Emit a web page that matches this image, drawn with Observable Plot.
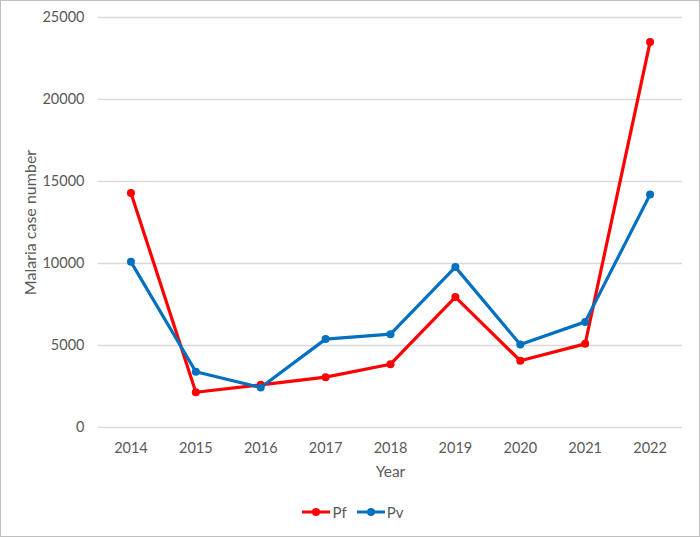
<!DOCTYPE html>
<html>
<head>
<meta charset="utf-8">
<script src="https://cdn.jsdelivr.net/npm/d3@7"></script>
<script src="https://cdn.jsdelivr.net/npm/@observablehq/plot@0.6"></script>
<style>
  html, body { margin: 0; padding: 0; background: #fff; }
  #wrap { position: relative; width: 700px; height: 537px; overflow: hidden; font-family: Lato, "Open Sans", sans-serif; }
  #border { position: absolute; left: 0; top: 0; width: 700px; height: 537px; box-sizing: border-box; border: 1.5px solid #bfbfbf; pointer-events: none; }
  #chart { position: absolute; left: 0; top: 0; }
  #legend { position: absolute; top: 503px; left: 0; width: 700px; display: flex; justify-content: center; align-items: center; gap: 10px; font-size: 15px; color: #595959; padding-left: 6px; box-sizing: border-box; }
  .item { display: flex; align-items: center; gap: 2px; }
</style>
</head>
<body>
<div id="wrap">
  <div id="chart"></div>
  <div id="legend"></div>
  <div id="border"></div>
</div>
<script>
const years = ["2014", "2015", "2016", "2017", "2018", "2019", "2020", "2021", "2022"];
const pf = [14300, 2150, 2600, 3070, 3860, 7950, 4070, 5100, 23500];
const pv = [10100, 3400, 2440, 5390, 5690, 9780, 5060, 6440, 14200];
const seriesNames = ["Pf", "Pv"];
const seriesColors = ["#ff0000", "#0070c0"];
const yTicks = [0, 5000, 10000, 15000, 20000, 25000];
const yLabel = "Malaria case number";
const xLabel = "Year";

const rows = [];
years.forEach((y, i) => {
  rows.push({ year: y, value: pf[i], series: seriesNames[0] });
});
years.forEach((y, i) => {
  rows.push({ year: y, value: pv[i], series: seriesNames[1] });
});

const chart = Plot.plot({
  width: 700,
  height: 490,
  marginLeft: 98,
  marginRight: 18,
  marginTop: 17,
  marginBottom: 63,
  style: { fontFamily: "Lato, 'Open Sans', sans-serif", color: "#595959", background: "transparent" },
  x: { type: "point", domain: years, padding: 0.5, round: false, label: null },
  y: { domain: [0, 25000], label: null },
  color: { domain: seriesNames, range: seriesColors },
  marks: [
    Plot.gridY(yTicks, { stroke: "#d9d9d9", strokeOpacity: 1, strokeWidth: 1.3 }),
    Plot.axisY(yTicks, { tickSize: 0, tickPadding: 14, fontSize: 14.5, tickFormat: d => String(d), label: null }),
    Plot.axisX(years, { tickSize: 0, tickPadding: 15, fontSize: 14.5, label: null }),
    Plot.text([yLabel], { frameAnchor: "left", textAnchor: "middle", text: d => d, rotate: -90, dx: -68, dy: 0, fontSize: 16, fill: "#595959" }),
    Plot.text([xLabel], { frameAnchor: "bottom", text: d => d, dy: 49, fontSize: 15.5, fill: "#595959" }),
    Plot.line(rows, { x: "year", y: "value", z: "series", stroke: "series", strokeWidth: 3.2 }),
    Plot.dot(rows, { x: "year", y: "value", fill: "series", r: 4 })
  ]
});
document.getElementById("chart").appendChild(chart);

const legend = document.getElementById("legend");
seriesNames.forEach((name, i) => {
  const item = document.createElement("div");
  item.className = "item";
  item.innerHTML = `<svg width="28" height="10"><line x1="0" y1="5" x2="28" y2="5" stroke="${seriesColors[i]}" stroke-width="3"/><circle cx="14" cy="5" r="4" fill="${seriesColors[i]}"/></svg><span>${name}</span>`;
  legend.appendChild(item);
});
</script>
</body>
</html>
